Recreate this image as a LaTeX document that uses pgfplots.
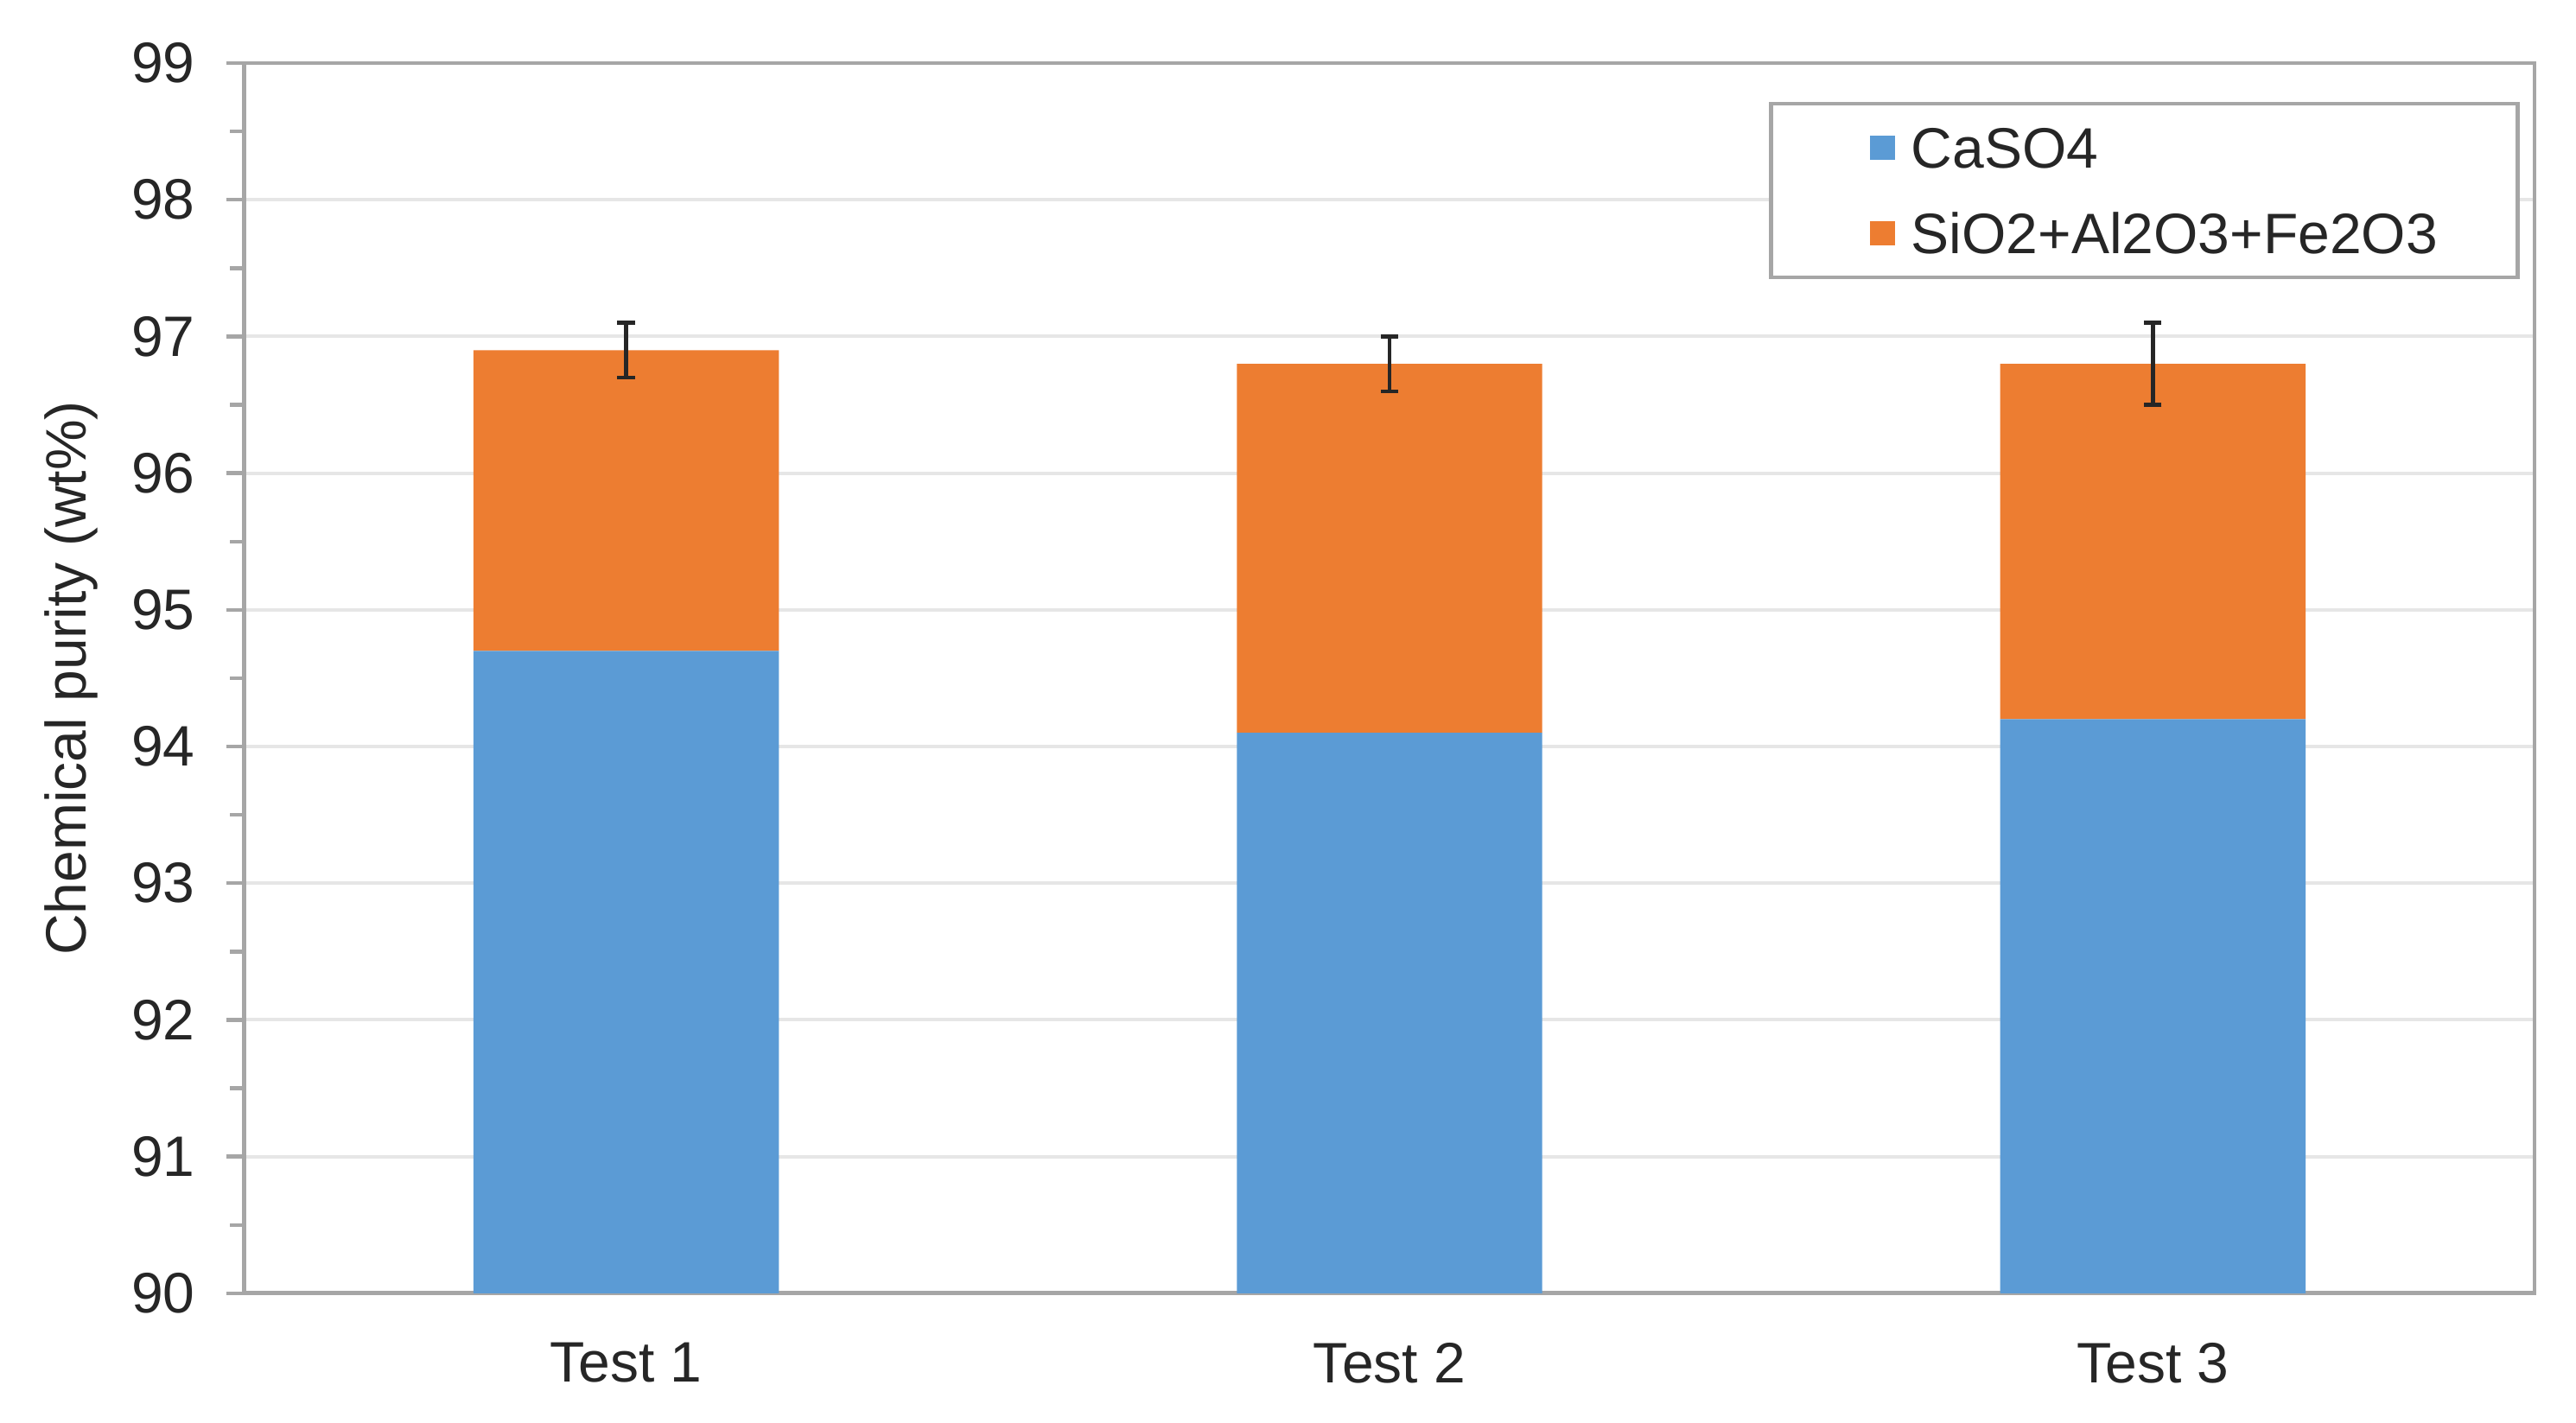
\documentclass[border=0pt]{standalone}
\usepackage{pgfplots}
\usepackage{pgfplotstable}
\pgfplotsset{compat=1.18}
\usepackage{fontspec}
\setmainfont{Liberation Sans}

\definecolor{barblue}{HTML}{5B9BD5}
\definecolor{barorange}{HTML}{ED7D31}
\definecolor{axisgray}{HTML}{A6A6A6}
\definecolor{gridgray}{HTML}{E6E6E6}
\definecolor{txt}{HTML}{262626}

% x = category position, caso4 + other stacked, top = total, err = +/- error
\pgfplotstableread{
x caso4 other top  err
0 94.7  2.2   96.9 0.2
1 94.1  2.7   96.8 0.2
2 94.2  2.6   96.8 0.3
}\purity

\begin{document}
\begin{tikzpicture}
\pgfplotsset{
  base/.style={
    width=602.3pt, height=323.6pt, scale only axis,
    xmin=-0.5, xmax=2.5, ymin=90, ymax=99,
  },
}
\begin{axis}[
  base,
  ybar stacked,
  bar width=0.4,
  font=\fontsize{15}{18}\selectfont,
  /pgf/number format/assume math mode=true,
  xtick={0,1,2},
  xticklabels={Test 1,Test 2,Test 3},
  ytick={90,91,...,99},
  minor y tick num=1,
  ytick pos=left,
  axis line style={axisgray, line width=1.1pt},
  ymajorgrids,
  major grid style={gridgray, line width=0.9pt},
  tick align=outside,
  tick style={axisgray, line width=1pt},
  major tick length=4.8pt,
  minor tick length=3.8pt,
  x tick style={draw=none},
  xticklabel style={anchor=north, inner sep=0pt, yshift=-8pt, text=txt},
  yticklabel style={anchor=east, inner sep=0pt, xshift=-8pt, text=txt},
  ylabel={Chemical purity (wt\%)},
  every axis y label/.style={at={(axis description cs:-0.0694,0.5)}, rotate=90, anchor=base, inner sep=0pt, text=txt},
  legend image code/.code={
    \path (0pt,0pt);
    \fill[#1] (5pt,-3.25pt) rectangle (11.5pt,3.25pt);
  },
  legend cell align=left,
  legend style={
    at={(axis description cs:0.9934,0.9685)}, anchor=north east,
    draw=axisgray, line width=1pt,
    inner xsep=21pt, inner ysep=6.25pt,
    row sep=11.8pt, column sep=4.4pt,
    nodes={inner sep=0pt, text height=10.7pt, text depth=0pt, text=txt},
    font=\fontsize{15}{18}\selectfont,
  },
]
\addplot[fill=barblue, draw=none] table[x=x, y=caso4] {\purity};
\addlegendentry{CaSO4}
\addplot[fill=barorange, draw=none] table[x=x, y=other] {\purity};
\addlegendentry{SiO2+Al2O3+Fe2O3}
\end{axis}

\begin{axis}[base, hide axis]
\addplot[draw=none, mark=none,
  error bars/.cd, y dir=both, y explicit,
  error bar style={line width=1pt, black!85},
  error mark options={rotate=90, mark size=2.3pt, line width=1pt, black!85},
] table[x=x, y=top, y error=err] {\purity};
\end{axis}

\pgfresetboundingbox
\path[use as bounding box] (-64.3pt,-33.9pt) rectangle (613.2pt,340.2pt);
\end{tikzpicture}
\end{document}
